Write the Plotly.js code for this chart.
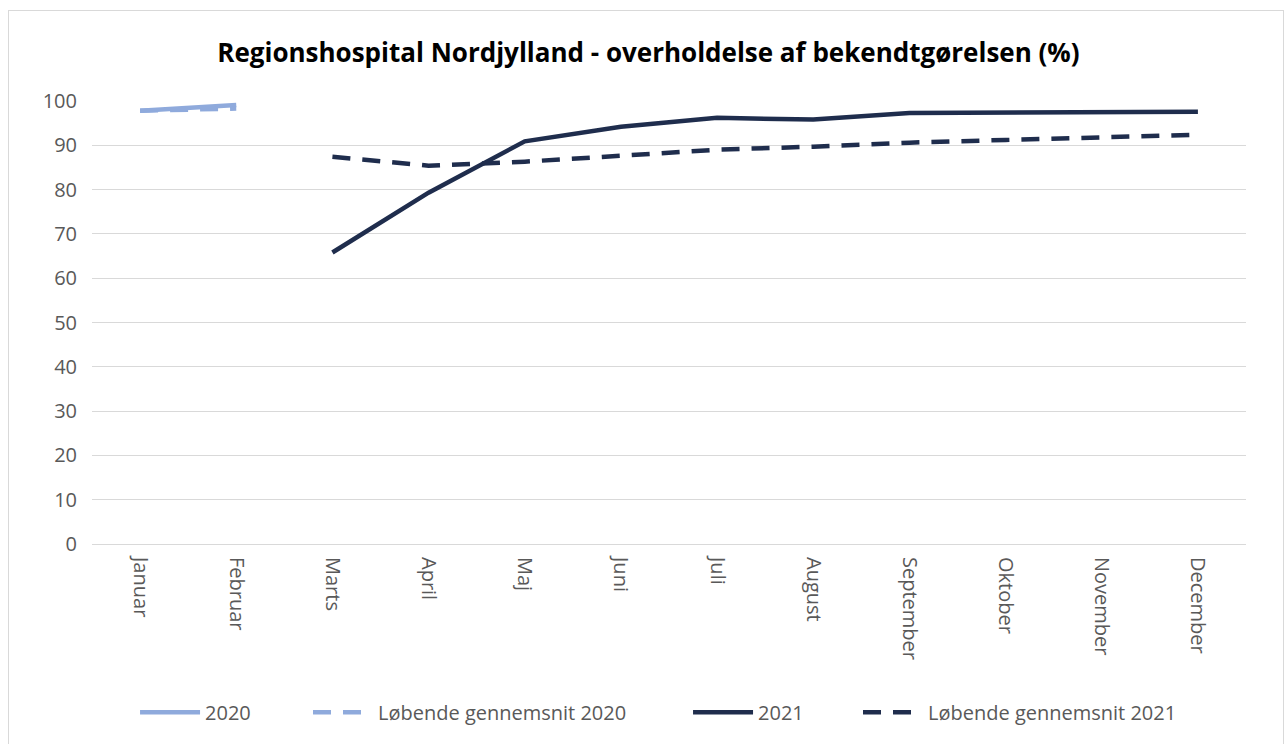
<!DOCTYPE html>
<html>
<head>
<meta charset="utf-8">
<script src="https://cdn.plot.ly/plotly-3.0.1.min.js"></script>
<style>
  body { margin: 0; background: #fff; }
  #frame { position: absolute; left: 8px; top: 10px; width: 1274px; height: 740px; border: 1px solid #d9d9d9; pointer-events: none; }
  #chart { position: absolute; left: 0; top: 0; width: 1284px; height: 744px; }
</style>
</head>
<body>
<div id="chart"></div>
<div id="frame"></div>
<script>
// maaneder
let months = ["Januar", "Februar", "Marts", "April", "Maj", "Juni", "Juli",
              "August", "September", "Oktober", "November", "December"];

// 2020 (kun jan og feb)
let values2020 = [97.8, 99.1, null, null, null, null, null, null, null, null, null, null];
let avg2020 = [97.8, 98.3, null, null, null, null, null, null, null, null, null, null];

// 2021 (fra marts)
let values2021 = [null, null, 65.8, 79.3, 90.9, 94.2, 96.2, 95.8, 97.3, 97.4, 97.4, 97.6];
let avg2021 = [null, null, 87.4, 85.4, 86.3, 87.6, 89.0, 89.7, 90.6, 91.2, 91.8, 92.4];

let lightBlue = "#8faadc";
let darkBlue = "#1f2d4d";

let trace1 = {
    x: months, y: values2020, mode: "lines", name: "2020", legend: "legend",
    line: { color: lightBlue, width: 4.5 }
};
let trace2 = {
    x: months, y: avg2020, mode: "lines", name: "Løbende gennemsnit 2020", legend: "legend2",
    line: { color: lightBlue, width: 4.5, dash: "18px,12px" }
};
let trace3 = {
    x: months, y: values2021, mode: "lines", name: "2021", legend: "legend3",
    line: { color: darkBlue, width: 4.5 }
};
let trace4 = {
    x: months, y: avg2021, mode: "lines", name: "Løbende gennemsnit 2021", legend: "legend4",
    line: { color: darkBlue, width: 4.5, dash: "18px,12px" }
};

// legend i bunden, en boks pr. serie som i Excel
function legendAt(x) {
    return {
        orientation: "h",
        x: x, xanchor: "left",
        y: -0.38, yanchor: "middle",
        font: { size: 20, color: "#595959" },
        itemwidth: 60,
        bgcolor: "rgba(0,0,0,0)"
    };
}

let layout = {
    width: 1284,
    height: 744,
    margin: { l: 92, r: 38, t: 101, b: 198 },
    paper_bgcolor: "rgba(0,0,0,0)",
    plot_bgcolor: "#fff",
    font: { family: "'Open Sans', sans-serif", size: 20, color: "#595959" },
    title: {
        text: "<b>Regionshospital Nordjylland - overholdelse af bekendtgørelsen (%)</b>",
        font: { size: 26, color: "#000" },
        x: 0.505, xanchor: "center",
        y: 1 - 53 / 744, yref: "container", yanchor: "middle"
    },
    xaxis: {
        type: "category",
        range: [-0.5, 11.5],
        tickangle: 90,
        showgrid: false,
        showline: false,
        zeroline: false,
        ticks: "",
        ticklabelstandoff: 12,
        automargin: false
    },
    yaxis: {
        range: [0, 100],
        dtick: 10,
        gridcolor: "#d9d9d9",
        gridwidth: 1,
        zeroline: true,
        zerolinecolor: "#d9d9d9",
        zerolinewidth: 1,
        ticks: "",
        ticklabelstandoff: 14,
        automargin: false
    },
    showlegend: true,
    legend: legendAt(0.0373),
    legend2: legendAt(0.1872),
    legend3: legendAt(0.5165),
    legend4: legendAt(0.6638)
};

Plotly.newPlot("chart", [trace1, trace2, trace3, trace4], layout, { displayModeBar: false });
</script>
</body>
</html>
